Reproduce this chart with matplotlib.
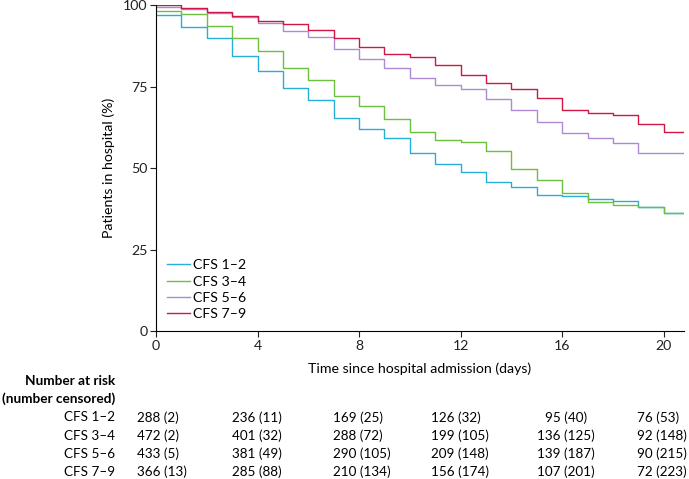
import numpy as np
import matplotlib.pyplot as plt

plt.rcParams['font.family'] = ['Lato', 'DejaVu Sans']

# Kaplan-Meier style curves, value held from each day to the next
days = np.arange(0, 21)
end_day = 20.8

cfs_12 = [96.8, 93.2, 90.0, 84.3, 79.7, 74.6, 70.9, 65.5, 62.0, 59.3, 54.8,
          51.4, 48.8, 45.9, 44.2, 41.9, 41.6, 40.5, 40.1, 38.2, 36.3]
cfs_34 = [98.2, 97.2, 93.5, 89.8, 86.0, 80.8, 76.9, 72.2, 69.0, 65.0, 61.0,
          58.6, 58.1, 55.4, 49.8, 46.4, 42.4, 39.7, 38.6, 38.0, 36.4]
cfs_56 = [99.5, 98.7, 97.5, 96.2, 94.6, 91.9, 90.3, 86.4, 83.4, 80.6, 77.6,
          75.5, 74.2, 71.1, 67.8, 64.1, 60.7, 59.4, 57.6, 54.8, 54.8]
cfs_79 = [100.0, 99.0, 97.8, 96.6, 95.1, 94.1, 92.3, 89.8, 87.2, 85.1, 84.2,
          81.5, 78.5, 76.2, 74.4, 71.6, 67.7, 66.9, 66.2, 63.6, 61.0]

labels = ['CFS 1–2', 'CFS 3–4', 'CFS 5–6', 'CFS 7–9']
colors = ['#27aed8', '#6cbf3f', '#ac8bd4', '#cf1745']

# number at risk table
risk_days = [0, 4, 8, 12, 16, 20]
risk_table = [
    ['288 (2)', '236 (11)', '169 (25)', '126 (32)', '95 (40)', '76 (53)'],
    ['472 (2)', '401 (32)', '288 (72)', '199 (105)', '136 (125)', '92 (148)'],
    ['433 (5)', '381 (49)', '290 (105)', '209 (148)', '139 (187)', '90 (215)'],
    ['366 (13)', '285 (88)', '210 (134)', '156 (174)', '107 (201)', '72 (223)'],
]

fs = 10.2
tfs = 9.7

fig = plt.figure(figsize=(6.89, 4.79), dpi=100)
ax = fig.add_axes([0.2264, 0.308, 0.7663, 0.6816])

for vals, lab, col in zip([cfs_12, cfs_34, cfs_56, cfs_79], labels, colors):
    x = np.append(days, end_day)
    y = np.append(vals, vals[-1])
    ax.step(x, y, where='post', color=col, lw=1.0, label=lab)

ax.set_xlim(0, end_day)
ax.set_ylim(0, 100)
ax.set_xticks(risk_days)
ax.set_yticks([0, 25, 50, 75, 100])
ax.spines['top'].set_visible(False)
ax.spines['right'].set_visible(False)
for s in ['left', 'bottom']:
    ax.spines[s].set_linewidth(0.8)
ax.tick_params(direction='out', length=4, width=0.8, labelsize=fs, pad=2, colors='#222222')
ax.set_xlabel('Time since hospital admission (days)', fontsize=fs, labelpad=8)
ax.set_ylabel('Patients in hospital (%)', fontsize=fs, labelpad=6)

ax.legend(loc='lower left', bbox_to_anchor=(0.0, 0.0), frameon=False, fontsize=fs,
          handlelength=1.6, handletextpad=0.2, labelspacing=0.3, borderaxespad=0.4)

# table below the plot, in data x and figure y
trans = ax.get_xaxis_transform()
px_to_axes = lambda py: (331.5 - py) / (331.5 - 5)
label_x = 115 / 689
fig.text(label_x, 1 - 380.7 / 479, 'Number at risk', ha='right', va='center',
         fontsize=fs - 0.4, fontweight='bold')
fig.text(label_x, 1 - 399 / 479, '(number censored)', ha='right', va='center',
         fontsize=fs - 0.4, fontweight='bold')
col_x = [-0.76, 2.99, 6.98, 10.85, 16.14, 18.95]
col_ha = ['left', 'left', 'left', 'left', 'center', 'left']
row_y = [417.3, 435.5, 453.7, 471.7]
for lab, row, py in zip(labels, risk_table, row_y):
    fig.text(label_x, 1 - py / 479, lab, ha='right', va='center', fontsize=tfs)
    for cx, ha, txt in zip(col_x, col_ha, row):
        ax.text(cx, px_to_axes(py), txt, transform=trans, ha=ha, va='center',
                fontsize=tfs, clip_on=False)

fig.savefig('out.png', dpi=100)
